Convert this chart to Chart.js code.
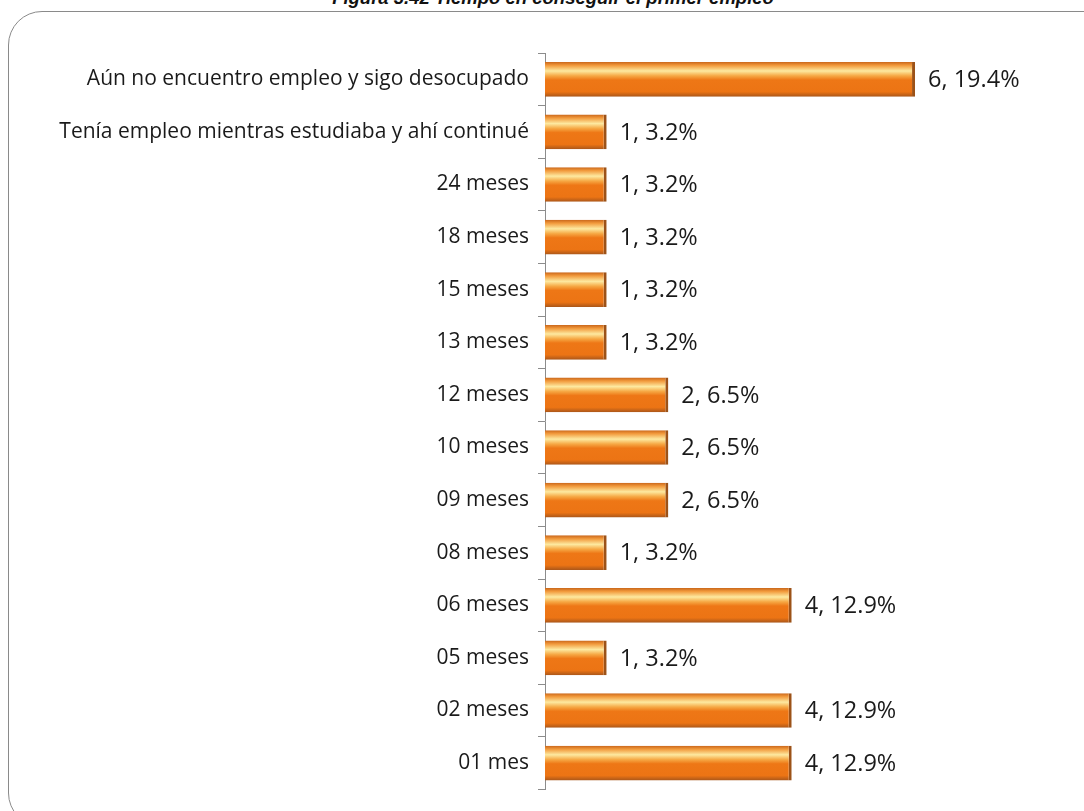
<!DOCTYPE html>
<html>
<head>
<meta charset="utf-8">
<script src="https://cdn.jsdelivr.net/npm/chart.js@4"></script>
<style>
  html, body { margin: 0; padding: 0; background: #fff; overflow: hidden; }
  #wrap { position: relative; width: 1084px; height: 811px; overflow: hidden; }
  #marco { position: absolute; left: 8px; top: 11px; width: 1110px; height: 816px; border: 1.5px solid #8a8a8a; border-radius: 34px; box-sizing: border-box; }
  #titulo { position: absolute; top: -13px; left: 0; width: 1106px; text-align: center; font: italic bold 18.5px "Liberation Sans", Arial, sans-serif; color: #111; }
  canvas { position: absolute; left: 0; top: 0; }
</style>
</head>
<body>
<div id="wrap">
  <div id="titulo">Figura 3.42 Tiempo en conseguir el primer empleo</div>
  <div id="marco"></div>
  <canvas id="myChart" width="1084" height="811"></canvas>
</div>
<script>
const categorias = [
  'Aún no encuentro empleo y sigo desocupado',
  'Tenía empleo mientras estudiaba y ahí continué',
  '24 meses', '18 meses', '15 meses', '13 meses', '12 meses',
  '10 meses', '09 meses', '08 meses', '06 meses', '05 meses',
  '02 meses', '01 mes'
]
const cantidades = [6, 1, 1, 1, 1, 1, 2, 2, 2, 1, 4, 1, 4, 4]
const porcentajes = [19.4, 3.2, 3.2, 3.2, 3.2, 3.2, 6.5, 6.5, 6.5, 3.2, 12.9, 3.2, 12.9, 12.9]

const myChart = document.querySelector('#myChart')

const degradado = (context) => {
  const chart = context.chart
  const y = chart.scales.y
  if (!y || y.top === undefined || context.dataIndex === undefined) return '#f08a24'
  const centro = y.getPixelForValue(context.dataIndex)
  const alto = (y.bottom - y.top) / categorias.length * 0.66
  const g = chart.ctx.createLinearGradient(0, centro - alto / 2, 0, centro + alto / 2)
  g.addColorStop(0, '#c9661a')
  g.addColorStop(0.1, '#f29a3c')
  g.addColorStop(0.26, '#fde9a0')
  g.addColorStop(0.4, '#f6a844')
  g.addColorStop(0.52, '#ee7716')
  g.addColorStop(0.86, '#ec7414')
  g.addColorStop(1, '#a9561a')
  return g
}

const etiquetas = {
  id: 'etiquetas',
  afterDatasetsDraw(chart) {
    const ctx = chart.ctx
    const meta = chart.getDatasetMeta(0)
    ctx.save()
    ctx.font = '23.5px "Open Sans", "Noto Sans", sans-serif'
    ctx.fillStyle = '#1a1a1a'
    ctx.textBaseline = 'middle'
    ctx.textAlign = 'left'
    meta.data.forEach((bar, i) => {
      ctx.fillText(`${cantidades[i]}, ${porcentajes[i]}%`, bar.x + 13, bar.y + 1)
    })
    ctx.restore()
  }
}

const config = {
  type: 'bar',
  data: {
    labels: categorias,
    datasets: [{
      data: cantidades,
      backgroundColor: degradado,
      borderColor: '#9c5218',
      borderWidth: { top: 0, bottom: 0, left: 0, right: 3 },
      borderSkipped: 'left',
      barPercentage: 0.66,
      categoryPercentage: 1
    }]
  },
  options: {
    indexAxis: 'y',
    responsive: false,
    animation: false,
    layout: { padding: { left: 8, right: 24, top: 53, bottom: 18 } },
    plugins: { legend: { display: false }, tooltip: { enabled: false } },
    scales: {
      x: { display: false, min: 0, max: 8.35 },
      y: {
        afterFit: (s) => { s.width = 537 },
        grid: { display: true, drawOnChartArea: false, drawTicks: true, tickLength: 7, color: '#8c8c8c', offset: true },
        border: { display: true, color: '#8c8c8c', width: 1 },
        ticks: { color: '#1a1a1a', padding: 9, font: { family: '"Open Sans", "Noto Sans", sans-serif', size: 21 } }
      }
    }
  },
  plugins: [etiquetas]
}

new Chart(myChart, config)
</script>
</body>
</html>
